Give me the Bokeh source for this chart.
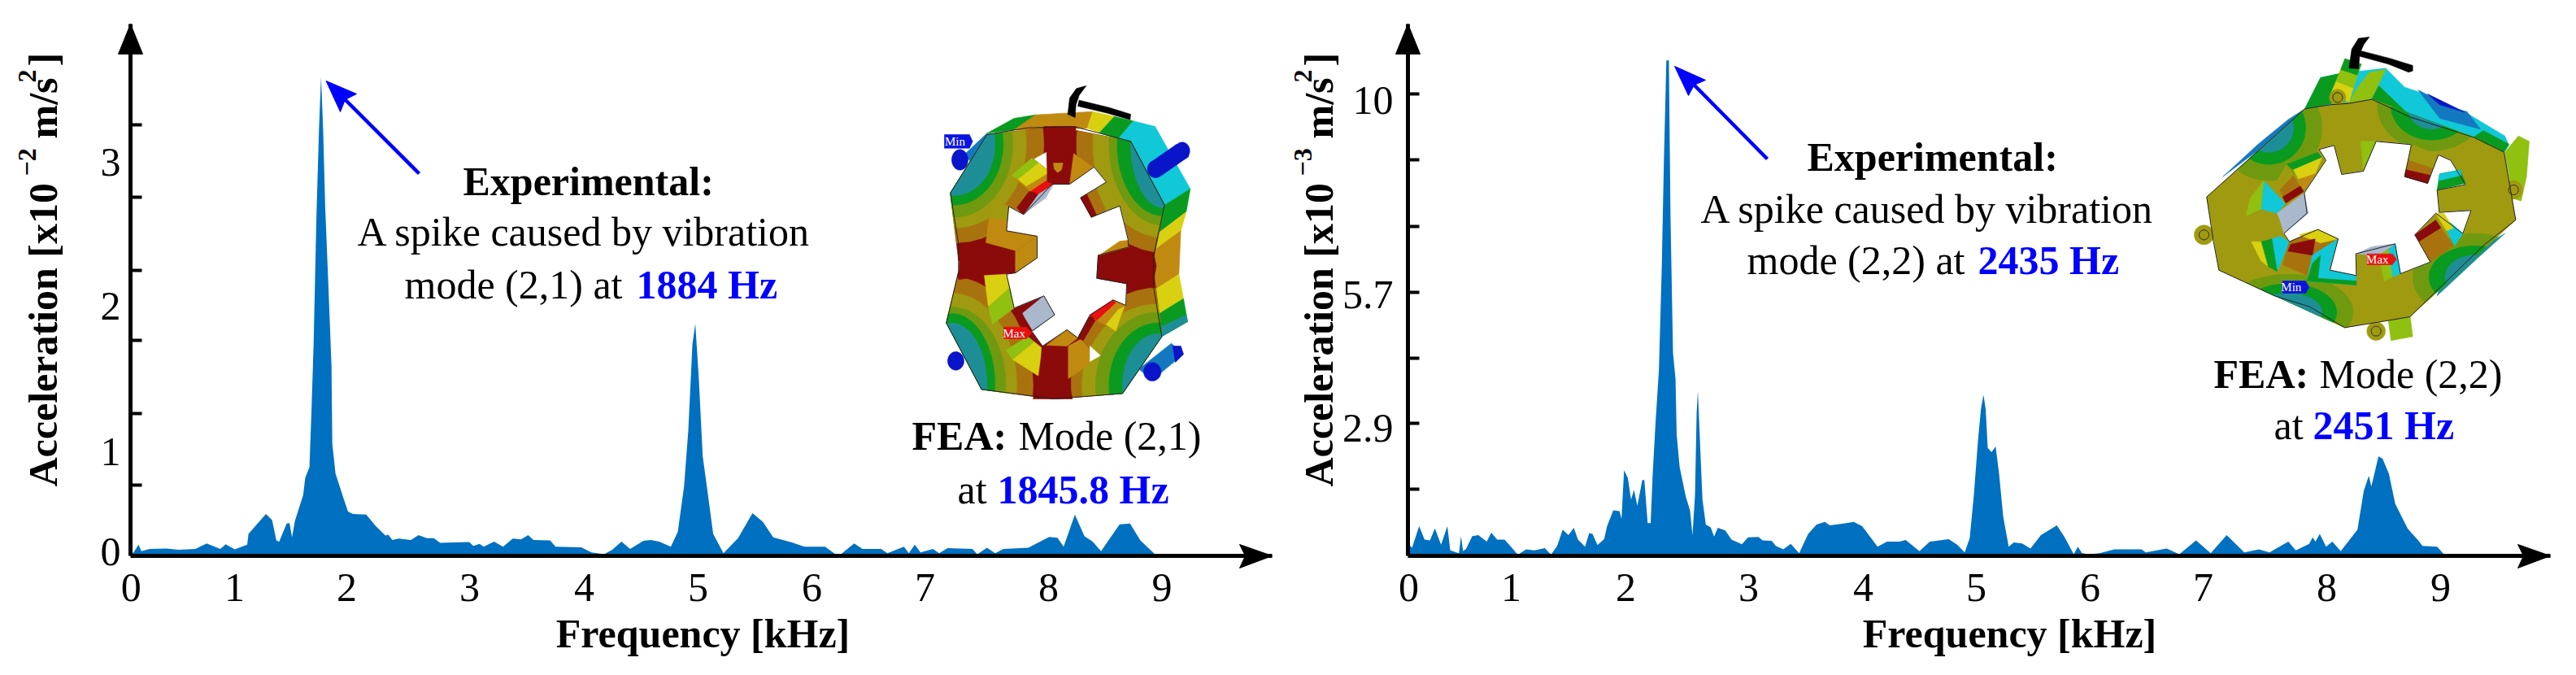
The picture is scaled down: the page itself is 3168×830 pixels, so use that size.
from math import cos, sin, pi, radians
from bokeh.plotting import figure
from bokeh.layouts import row
from bokeh.models import FixedTicker, Label, ColumnDataSource
from bokeh.embed import file_html
from bokeh.resources import INLINE

# ------------------------------------------------------------------ data
freq_a = [0.0,0.023,0.07,0.095,0.168,0.313,0.421,0.566,0.664,0.783,0.83,0.91,1.018,1.029,1.181,1.235,1.272,1.297,1.362,1.387,1.409,1.434,1.506,1.524,1.561,1.579,1.597,1.622,1.644,1.662,1.68,1.698,1.724,1.753,1.76,1.788,1.861,1.897,1.94,2.056,2.14,2.223,2.248,2.284,2.339,2.447,2.512,2.585,2.646,2.7,2.954,2.99,3.044,3.08,3.171,3.25,3.334,3.406,3.468,3.515,3.66,3.707,3.931,4.021,4.13,4.202,4.282,4.358,4.474,4.539,4.611,4.713,4.774,4.828,4.865,4.901,4.926,4.955,4.991,5.027,5.082,5.172,5.299,5.425,5.516,5.606,5.769,5.878,6.059,6.149,6.196,6.312,6.384,6.547,6.601,6.746,6.789,6.84,6.891,6.999,7.053,7.126,7.343,7.386,7.47,7.542,7.614,7.831,8.012,8.085,8.139,8.237,8.32,8.392,8.465,8.627,8.718,8.808,8.935,8.971]
accel_a = [0.063,0.018,0.078,0.033,0.048,0.051,0.042,0.048,0.087,0.048,0.081,0.045,0.078,0.153,0.291,0.249,0.108,0.099,0.225,0.228,0.129,0.243,0.423,0.543,0.618,1.022,1.472,2.371,2.97,3.336,2.97,2.431,1.921,1.322,0.782,0.573,0.393,0.309,0.291,0.288,0.207,0.141,0.147,0.111,0.12,0.111,0.144,0.123,0.123,0.09,0.096,0.069,0.084,0.063,0.099,0.063,0.12,0.114,0.144,0.111,0.108,0.063,0.06,0.024,0.012,0.042,0.099,0.048,0.105,0.111,0.099,0.063,0.168,0.483,0.872,1.472,1.616,1.262,0.692,0.483,0.153,0.018,0.123,0.297,0.237,0.129,0.093,0.063,0.063,0.012,0.012,0.087,0.048,0.048,0.018,0.063,0.018,0.078,0.024,0.048,0.018,0.054,0.048,0.012,0.057,0.018,0.048,0.057,0.132,0.126,0.063,0.288,0.138,0.099,0.033,0.219,0.225,0.108,0.012,0.0]

freq_b = [0.0,0.036,0.098,0.145,0.192,0.235,0.289,0.344,0.369,0.445,0.463,0.481,0.507,0.561,0.615,0.687,0.727,0.778,0.843,0.959,1.031,1.103,1.194,1.248,1.302,1.35,1.4,1.447,1.483,1.545,1.581,1.61,1.653,1.711,1.737,1.791,1.845,1.863,1.885,1.918,1.946,1.972,2.001,2.044,2.062,2.091,2.117,2.135,2.16,2.189,2.214,2.232,2.254,2.276,2.29,2.312,2.334,2.344,2.37,2.424,2.46,2.482,2.504,2.518,2.529,2.551,2.569,2.598,2.641,2.67,2.703,2.768,2.822,2.912,2.967,3.057,3.093,3.173,3.209,3.274,3.339,3.412,3.491,3.564,3.636,3.679,3.799,3.889,3.962,4.096,4.179,4.287,4.342,4.461,4.552,4.717,4.79,4.856,4.9,4.936,4.973,4.998,5.02,5.039,5.057,5.09,5.126,5.156,5.192,5.24,5.284,5.357,5.43,5.521,5.66,5.722,5.807,5.843,5.88,5.942,6.033,6.161,6.399,6.435,6.618,6.728,6.874,7.002,7.141,7.295,7.423,7.514,7.679,7.744,7.861,7.891,7.916,7.953,8.008,8.063,8.136,8.282,8.337,8.381,8.403,8.465,8.501,8.556,8.611,8.721,8.812,8.849,8.977,9.038]
accel_b = [0.27,0.177,0.643,0.354,0.336,0.596,0.242,0.643,0.121,0.056,0.429,0.103,0.149,0.429,0.447,0.308,0.503,0.354,0.354,0.028,0.14,0.121,0.168,0.028,0.214,0.568,0.447,0.606,0.354,0.196,0.494,0.475,0.233,0.363,0.643,0.988,0.969,0.801,1.855,1.687,1.221,1.426,1.081,1.64,1.64,0.708,0.708,1.78,2.898,4.017,6.254,8.49,10.727,10.727,7.372,4.389,3.83,2.619,1.92,1.277,0.988,0.447,1.314,3.085,3.569,2.246,1.221,0.68,0.615,0.419,0.606,0.55,0.354,0.252,0.401,0.41,0.336,0.326,0.214,0.14,0.261,0.056,0.475,0.68,0.736,0.662,0.699,0.736,0.643,0.196,0.308,0.308,0.345,0.103,0.308,0.363,0.242,0.075,0.382,1.314,2.526,3.178,3.486,3.178,2.339,2.246,2.367,1.78,0.848,0.196,0.289,0.27,0.158,0.447,0.662,0.429,0.037,0.196,0.056,0.037,0.056,0.14,0.14,0.075,0.158,0.037,0.336,0.056,0.447,0.075,0.14,0.075,0.308,0.121,0.261,0.401,0.308,0.475,0.196,0.308,0.103,0.568,1.407,1.733,1.5,2.153,2.106,1.78,1.128,0.587,0.336,0.214,0.196,0.028]

x_tick_text = ["0","1","2","3","4","5","6","7","8","9"]
x_tick_pos_a = [0.005,0.908,1.887,2.957,3.957,4.95,5.943,6.929,8.007,8.997]
x_tick_pos_b = [0.007,0.901,1.901,2.972,3.972,4.957,5.95,6.936,8.014,9.007]
y_label_text_a = ["0","1","2","3"]
y_label_pos_a = [0.03,0.725,1.738,2.74]
y_ticks_a = [0.49,0.99,1.5,1.99,2.5,3.0]
y_label_text_b = ["2.9","5.7","10"]
y_label_pos_b = [2.76,5.66,9.86]
y_ticks_b = [1.45,2.87,4.28,5.7,7.13,8.58,10.0]

FONT = "Liberation Serif"
BLUE = "#0000FF"
FILL = "#0070C0"
PX_PER_KHZ = 141.0
BASE_PY = 683.0
TOP_PY = 29.0
FIG_H = 826

# ------------------------------------------------------------------ colours of the FEA insets
RED, BRN, OCH, OLV, OGR, GRN, TEAL = "#8B0A0A","#A8730F","#C08A10","#A09A10","#6F9A10","#0A9A20","#1E8E96"
YEL, LIM, CYA, LBL, DBL, GRY, HOT = "#D8D010","#90C010","#10C8D8","#1478C0","#0A14C8","#AAB8CC","#E81010"


def make_fig(left_px, fig_left, fig_w, yscale):
    p = figure(width=fig_w, height=FIG_H, toolbar_location=None, output_backend="svg",
               x_range=((fig_left-left_px)/PX_PER_KHZ, (fig_left+fig_w-left_px)/PX_PER_KHZ),
               y_range=((BASE_PY-FIG_H)/yscale, BASE_PY/yscale), min_border=0)
    p.outline_line_color = None
    p.grid.visible = False
    return p


def style_axes(p, xpos, ypos, ylab, yticks, y_standoff, xmax, ymax):
    ax = p.xaxis[0]
    ax.fixed_location = 0
    ax.bounds = (0, xmax)
    ax.ticker = FixedTicker(ticks=xpos)
    ax.major_label_overrides = dict(zip(xpos, x_tick_text))
    ax.axis_line_width = 5
    ax.axis_line_color = "black"
    ax.major_tick_line_color = None
    ax.minor_tick_line_color = None
    ax.major_label_standoff = 16
    ax.major_label_text_font = FONT
    ax.major_label_text_font_size = "50px"
    ax.major_label_text_color = "black"
    ay = p.yaxis[0]
    ay.fixed_location = 0
    ay.bounds = (0, ymax)
    ay.ticker = FixedTicker(ticks=ypos, minor_ticks=yticks)
    ay.major_label_overrides = dict(zip(ypos, ylab))
    ay.axis_line_width = 5
    ay.axis_line_color = "black"
    ay.major_tick_line_color = None
    ay.minor_tick_in = 14
    ay.minor_tick_out = 0
    ay.minor_tick_line_width = 4
    ay.minor_tick_line_color = "black"
    ay.major_label_standoff = y_standoff
    ay.major_label_text_font = FONT
    ay.major_label_text_font_size = "50px"
    ay.major_label_text_color = "black"


def clip(poly, convex):
    """Sutherland-Hodgman clip of poly against a clockwise (screen) convex outline."""
    out = poly
    n = len(convex)
    for i in range(n):
        ax, ay = convex[i]
        bx, by = convex[(i+1) % n]
        inp, out = out, []
        if not inp:
            break
        side = lambda q: (bx-ax)*(q[1]-ay)-(by-ay)*(q[0]-ax)
        for j in range(len(inp)):
            c, d = inp[j], inp[(j+1) % len(inp)]
            sc, sd = side(c), side(d)
            if sc >= 0:
                out.append(c)
            if (sc >= 0) != (sd >= 0):
                t = sc/(sc-sd)
                out.append((c[0]+t*(d[0]-c[0]), c[1]+t*(d[1]-c[1])))
    return out


def ell(cx, cy, rx, ry=None):
    ry = rx if ry is None else ry
    return [(cx+rx*cos(radians(a)), cy+ry*sin(radians(a))) for a in range(0, 360, 8)]


def draw_polys(p, polys, ox, oy, left_px, yscale, k=3.0):
    xs, ys, cols = [], [], []
    for col, pts in polys:
        if len(pts) < 3:
            continue
        xs.append([(ox+a/k-left_px)/PX_PER_KHZ for a, b in pts])
        ys.append([(BASE_PY-(oy+b/k))/yscale for a, b in pts])
        cols.append(col)
    p.patches(xs, ys, fill_color=cols, line_color=cols, line_width=0.6)


def outline(p, pts, ox, oy, left_px, yscale, k=3.0):
    xs = [(ox+a/k-left_px)/PX_PER_KHZ for a, b in pts]+[(ox+pts[0][0]/k-left_px)/PX_PER_KHZ]
    ys = [(BASE_PY-(oy+b/k))/yscale for a, b in pts]+[(BASE_PY-(oy+pts[0][1]/k))/yscale]
    p.line(xs, ys, line_color="#222222", line_width=1)


def inset_left(p, left_px, yscale):
    ox, oy = 1130, 120
    P = []
    # side face
    P += [(CYA,[(780,160),(870,105),(1000,335),(905,395)]),
          (GRN,[(905,395),(1000,335),(985,420),(880,500)]),
          (YEL,[(880,500),(985,420),(965,490),(868,560)]),
          (OCH,[(868,560),(965,490),(958,650),(865,710)]),
          (YEL,[(865,710),(958,650),(975,740),(878,800)]),
          (GRN,[(878,800),(975,740),(990,825),(895,880)]),
          (TEAL,[(880,850),(985,800),(990,825),(895,880)])]
    # top surface
    P += [(GRN,[(250,130),(350,75),(430,62),(350,118)]),
          (OCH,[(350,118),(430,62),(640,50),(620,112)]),
          (YEL,[(620,112),(640,50),(720,68),(665,128)]),
          (GRN,[(665,128),(720,68),(790,85),(735,150)]),
          (CYA,[(735,150),(790,85),(870,105),(780,160)])]
    # bolts behind the ring
    P += [(LBL,[(165,210),(250,130),(260,150),(190,235)]),
          (LBL,[(810,1000),(930,905),(975,945),(860,1040)]),
          (DBL,[(850,240),(950,170),(995,215),(895,285)]),
          (DBL,ell(970,195,28,32)),(DBL,ell(872,262,30,32)),
          (DBL,ell(150,228,30,38)),(DBL,ell(135,970,30,34)),(DBL,ell(860,1010,32,34)),
          (DBL,[(935,915),(965,915),(975,945),(945,975)])]
    # front face: red poles with concentric bands round the four corners
    cx, cy = 505, 610
    quads = [
        ([(cx,cy),(145,600),(115,350),(250,135),(505,105)], (130,170), [330,265,215,180,150], [365,310,270,225,190]),
        ([(cx,cy),(505,105),(780,160),(905,395),(865,590)], (900,170), [320,260,200,170,120], [400,345,300,265,235]),
        ([(cx,cy),(865,640),(895,880),(750,1090),(490,1110)], (880,1060), [320,280,230,180,130], [360,300,270,230,190]),
        ([(cx,cy),(490,1110),(230,1075),(100,830),(145,640)], (120,1060), [300,240,200,160,130], [400,340,290,265,230]),
    ]
    for poly, c, rxs, rys in quads:
        P.append((RED, poly))
        for col, rx, ry in zip([BRN,OLV,OGR,GRN,TEAL], rxs, rys):
            P.append((col, clip(ell(c[0], c[1], rx, ry), poly)))
    # inner opening
    hole = [(490,318),(555,318),(645,255),(690,310),(595,368),(635,440),(740,398),(770,520),(772,550),(660,580),
            (655,665),(765,685),(762,765),(715,745),(630,800),(585,885),(545,855),(455,915),(415,860),(500,800),
            (460,730),(350,775),(322,650),(355,645),(435,590),(435,510),(322,490),(330,400),(385,430)]
    P.append(("#FFFFFF", hole))
    P.append(("#FFFFFF", [(425,225),(470,200),(470,262)]))
    P += [(OCH,[(340,285),(415,222),(470,262),(470,305),(410,345)]),
          (LIM,[(340,285),(415,222),(440,240),(365,300)]),
          (YEL,[(365,300),(440,240),(470,262),(470,280),(395,325)]),
          (HOT,[(410,345),(470,305),(495,320),(440,355)]),
          (RED,[(360,405),(405,345),(430,350),(385,430)]),
          (GRY,[(390,425),(440,355),(495,320),(465,370)]),
          (RED,[(460,105),(578,105),(570,205),(555,318),(475,310),(470,200)]),
          (OCH,[(495,240),(530,240),(525,265),(510,275),(498,262)]),
          (OCH,[(570,205),(640,255),(555,318)]),
          (RED,[(595,368),(620,355),(655,430),(635,440)]),
          (BRN,[(620,355),(655,335),(690,415),(655,430)]),
          (OLV,[(655,335),(690,310),(740,398),(690,415)]),
          # left tooth and slot faces
          (OCH,[(245,540),(265,380),(330,400),(322,490),(435,510),(355,565)]),
          (OLV,[(258,440),(265,380),(330,400),(325,450)]),
          (RED,[(150,535),(245,535),(355,565),(355,645),(240,655),(145,670)]),
          (OCH,[(355,565),(435,510),(435,590),(355,645)]),
          (YEL,[(240,655),(322,650),(335,700),(255,770)]),
          (LIM,[(255,770),(335,700),(350,775),(270,835)]),
          # right tooth
          (RED,[(660,585),(770,560),(865,575),(875,620),(860,695),(770,705),(765,685),(655,665)]),
          (OCH,[(665,580),(740,528),(772,525),(772,550)]),
          # lower left pieces
          (GRY,[(380,795),(460,730),(498,800),(420,860)]),
          (RED,[(350,790),(380,795),(400,840),(370,840)]),
          (LIM,[(320,930),(400,880),(425,900),(345,965)]),
          (YEL,[(345,965),(425,900),(450,920),(447,1030)]),
          # bottom tooth
          (RED,[(455,915),(545,915),(550,1035),(565,1110),(420,1110),(440,1030)]),
          (OCH,[(470,912),(545,855),(585,885),(545,915)]),
          (OCH,[(550,915),(595,890),(630,930),(625,985),(550,1035)]),
          ("#FFFFFF",[(630,915),(668,950),(630,972)]),
          # lower right pieces
          (OCH,[(655,820),(715,745),(762,765),(725,860)]),
          (YEL,[(690,835),(735,780),(755,770),(725,860)]),
          (HOT,[(630,800),(715,745),(725,755),(655,820)]),
          (RED,[(585,885),(625,810),(650,820),(605,895)])]
    # hammer
    P += [("#000000",[(616,-45),(580,-35),(555,0),(548,60),(575,72),(578,25),(590,-10)]),
          ("#000000",[(590,8),(700,35),(780,60),(778,80),(690,55),(585,30)])]
    # tags
    P += [("#0A14E0",[(93,135),(185,135),(197,160),(185,185),(93,185)]),
          ("#E81010",[(312,845),(395,845),(415,868),(395,888),(312,888)])]
    draw_polys(p, P, ox, oy, left_px, yscale)
    outline(p, hole, ox, oy, left_px, yscale)
    outline(p, [(250,135),(400,110),(570,105),(780,160),(905,395),(865,580),(865,700),(895,880),(750,1090),(500,1110),(230,1075),(100,830),(145,640),(145,540),(115,350)], ox, oy, left_px, yscale)
    return [("Min", ox+132/3, oy+160/3), ("Max", ox+350/3, oy+868/3)]


def inset_right(p, left_px, yscale):
    ox, oy = 2680, 30
    P = []
    # back surface
    P += [(CYA,[(462,310),(520,195),(590,180),(760,160),(830,230),(920,260),(1050,320),(1200,410),(1215,445),(1197,470),(1085,415),(850,340),(710,275)]),
          (GRN,[(462,310),(520,195),(590,180),(560,290)]),
          (LIM,[(625,290),(710,272),(760,165),(700,175),(650,240)]),
          (GRN,[(710,272),(735,225),(850,335)]),
          (LBL,[(880,240),(1000,305),(1060,320),(1110,385),(960,345)]),
          (DBL,[(915,255),(1050,322),(960,295)]),
          (GRN,[(1085,415),(1120,390),(1215,440),(1197,470)]),
          (LBL,[(160,560),(290,440),(400,350),(462,310),(280,470)]),
          (TEAL,[(950,1000),(1100,860),(1200,770),(1120,815),(960,970)]),
          (LIM,[(560,250),(610,125),(670,145),(625,285)]),
          (GRN,[(610,125),(670,145),(655,185),(595,165)]),
          (YEL,[(578,210),(640,235),(625,285),(560,250)]),
          (LIM,[(1200,470),(1250,410),(1290,430),(1280,560),(1260,650),(1230,640)]),
          (LIM,[(770,1090),(850,1070),(860,1150),(780,1165)]),
          (OLV,ell(90,775,36)),(OLV,ell(583,268,30)),(OLV,ell(1232,609,34)),(OLV,ell(725,1130,34))]
    # front face
    front = [(100,635),(462,310),(710,275),(1085,415),(1197,470),(1240,720),(850,1077),(609,1117),(145,905)]
    P.append((OLV, front))
    for c, rads in [((330,380),[(195,195),(135,135),(90,90)]),
                    ((930,300),[(200,165),(150,125),(90,85)]),
                    ((400,1060),[(240,140),(180,105),(125,70)]),
                    ((1090,930),[(230,160),(170,115),(110,80)])]:
        for col, (rx, ry) in zip([OGR,GRN,TEAL], rads):
            P.append((col, clip(ell(c[0], c[1], rx, ry), front)))
    hole = [(515,460),(570,445),(598,552),(678,540),(725,430),(855,442),(830,560),(915,585),(955,480),(1000,500),
            (1055,590),(950,610),(958,692),(1075,685),(1045,770),(945,695),(868,775),(925,875),(815,918),(795,808),
            (650,845),(652,925),(555,905),(585,790),(510,755),(405,800),(385,770),(470,695),(460,620),(540,500)]
    P.append(("#FFFFFF", hole))
    P += [(GRN,[(395,515),(510,470),(525,490),(420,535)]),
          (YEL,[(420,535),(525,490),(500,550),(440,570)]),
          (OCH,[(440,570),(500,550),(470,600),(450,600)]),
          (OLV,[(350,590),(395,515),(430,565),(385,620)]),
          (BRN,[(370,610),(420,555),(445,600),(385,640)]),
          (RED,[(380,635),(445,595),(458,615),(392,658)]),
          (CYA,[(310,575),(390,660),(360,695),(300,680)]),
          (LIM,[(245,705),(260,640),(310,575),(300,680)]),
          (GRY,[(360,695),(460,620),(475,695),(385,770),(370,720)]),
          (CYA,[(340,790),(370,780),(405,800),(360,910)]),
          (GRN,[(300,800),(340,790),(360,910),(325,890)]),
          (YEL,[(265,800),(300,800),(325,890),(300,870)]),
          (BRN,[(405,800),(510,755),(585,790),(490,850),(470,925),(380,885)]),
          (YEL,[(440,775),(510,755),(585,790),(520,805)]),
          (RED,[(410,810),(500,790),(490,850),(400,835)]),
          (CYA,[(470,945),(490,850),(585,790),(550,905),(650,925),(652,960)]),
          (GRN,[(470,945),(490,880),(520,850),(510,935),(652,945),(652,960)]),
          (LIM,[(668,430),(725,430),(678,540)]),
          (OLV,[(855,442),(955,480),(935,530),(845,500)]),
          (BRN,[(845,500),(935,530),(925,555),(835,535)]),
          (RED,[(835,535),(925,555),(915,585),(830,560)]),
          (GRN,[(950,610),(960,550),(1035,535),(1055,585)]),
          (CYA,[(958,552),(1035,535),(1040,555),(955,575)]),
          (CYA,[(965,720),(1000,730),(1045,770),(1015,815)]),
          (YEL,[(945,695),(975,695),(1010,750),(985,760)]),
          (RED,[(868,775),(945,720),(965,750),(885,800)]),
          (BRN,[(885,800),(965,750),(1010,815),(925,875)]),
          (GRY,[(650,845),(710,818),(795,808),(735,850)]),
          (CYA,[(770,830),(795,808),(815,918),(785,930)]),
          (LIM,[(735,850),(770,830),(785,930),(755,945)])]
    # hammer
    P += [("#000000",[(700,45),(660,50),(635,90),(625,160),(660,162),(665,105),(680,72)]),
          ("#000000",[(665,95),(780,125),(860,150),(860,170),(845,175),(770,145),(660,115)])]
    # tags
    P += [("#0A14E0",[(380,945),(465,945),(478,968),(465,990),(380,990)]),
          ("#E81010",[(692,845),(785,845),(800,865),(785,885),(692,885)])]
    draw_polys(p, P, ox, oy, left_px, yscale)
    outline(p, hole, ox, oy, left_px, yscale)
    outline(p, [(100,635),(462,310),(555,295),(625,290),(710,275),(850,340),(1085,415),(1197,470),(1240,720),(1120,815),(960,970),(850,1077),(756,1093),(609,1117),(480,1040),(350,1000),(145,905),(125,800)], ox, oy, left_px, yscale)
    for c, r in [((90,775),18), ((583,268),18), ((1232,609),18), ((725,1130),18)]:
        outline(p, ell(c[0], c[1], r), ox, oy, left_px, yscale)
    return [("Min", ox+412/3, oy+968/3), ("Max", ox+730/3, oy+865/3)]


def annotate(p, left_px, yscale, texts, arrow, xtip, tags, ytitle_px, exponent):
    X = lambda a: (a-left_px)/PX_PER_KHZ
    Y = lambda b: (BASE_PY-b)/yscale

    def T(px, py, s, bold=False, col="black", align="left", size="50px", baseline="middle", angle=0):
        p.add_layout(Label(x=X(px), y=Y(py), text=s, text_font=FONT, text_font_size=size,
                           text_font_style="bold" if bold else "normal", text_color=col,
                           text_align=align, text_baseline=baseline, angle=angle))

    for t in texts:
        T(*t)
    for name, px, py in tags:
        T(px, py, name, col="#FFFFFF", align="center", size="15px")

    # axis arrow heads
    p.patch([X(left_px), X(left_px-15), X(left_px+15)], [Y(TOP_PY), Y(66), Y(66)], fill_color="black", line_color="black")
    p.patch([X(xtip), X(xtip-40), X(xtip-33), X(xtip-40)],
            [Y(BASE_PY), Y(BASE_PY-14), Y(BASE_PY), Y(BASE_PY+15)], fill_color="black", line_color="black")
    # blue pointer
    (tx, ty), (hx, hy), (c1x, c1y), (c2x, c2y), (nx, ny) = arrow
    p.segment(X(tx), Y(ty), X(nx), Y(ny), line_color=BLUE, line_width=4.5)
    p.patch([X(hx), X(c1x), X(nx), X(c2x)], [Y(hy), Y(c1y), Y(ny), Y(c2y)], fill_color=BLUE, line_color=BLUE)

    # rotated axis title, in pieces so the exponents are true superscripts
    base, sup = ytitle_px
    rot = pi/2
    T(base, 598, "Acceleration [x10", True, baseline="alphabetic", angle=rot)
    T(sup, 216, "\u2212" + exponent, True, size="32px", baseline="alphabetic", angle=rot)
    T(base, 170, "m/s", True, baseline="alphabetic", angle=rot)
    T(sup, 101, "2", True, size="32px", baseline="alphabetic", angle=rot)
    T(base, 81, "]", True, baseline="alphabetic", angle=rot)


# ------------------------------------------------------------------ left chart
SPLIT = 1572
LA, RA, SCALE_A = 160, 1564, 176.6
pa = make_fig(LA, 0, SPLIT, SCALE_A)
style_axes(pa, x_tick_pos_a, y_label_pos_a, y_label_text_a, y_ticks_a, 6, (RA-LA)/PX_PER_KHZ, (BASE_PY-TOP_PY)/SCALE_A)
pa.varea(x="f", y1=0, y2="a", source=ColumnDataSource(dict(f=freq_a, a=accel_a)), fill_color=FILL)
tags_a = inset_left(pa, LA, SCALE_A)
texts_a = [
    (569, 222, "Experimental:", True),
    (439, 284, "A spike caused by vibration"),
    (497, 349, "mode (2,1) at"),
    (782, 349, "1884 Hz", True, BLUE),
    (1121, 535, "FEA:", True),
    (1252, 535, "Mode (2,1)"),
    (1177, 601, "at"),
    (1226, 601, "1845.8 Hz", True, BLUE),
    (864, 778, "Frequency [kHz]", True, "black", "center"),
]
arrow_a = ((515, 213), (400.5, 99), (438, 115), (418, 137), (424, 122))
annotate(pa, LA, SCALE_A, texts_a, arrow_a, RA, tags_a, (52, 33), "2")

# ------------------------------------------------------------------ right chart
LB, RB, SCALE_B = 1731, 3136, 56.8
pb = make_fig(LB, SPLIT, 3160-SPLIT, SCALE_B)
style_axes(pb, x_tick_pos_b, y_label_pos_b, y_label_text_b, y_ticks_b, 12, (RB-LB)/PX_PER_KHZ, (BASE_PY-TOP_PY)/SCALE_B)
pb.varea(x="f", y1=0, y2="a", source=ColumnDataSource(dict(f=freq_b, a=accel_b)), fill_color=FILL)
tags_b = inset_right(pb, LB, SCALE_B)
texts_b = [
    (2222, 192, "Experimental:", True),
    (2091, 256, "A spike caused by vibration"),
    (2148, 319, "mode (2,2) at"),
    (2432, 319, "2435 Hz", True, BLUE),
    (2722, 459, "FEA:", True),
    (2852, 459, "Mode (2,2)"),
    (2796, 522, "at"),
    (2844, 522, "2451 Hz", True, BLUE),
    (2471, 778, "Frequency [kHz]", True, "black", "center"),
]
arrow_b = ((2173, 195), (2059, 81), (2097, 98), (2076, 117), (2083, 104))
annotate(pb, LB, SCALE_B, texts_b, arrow_b, RB, tags_b, (1621, 1602), "3")

layout = row(pa, pb, spacing=0)
open("out.html", "w").write(file_html(layout, INLINE))
